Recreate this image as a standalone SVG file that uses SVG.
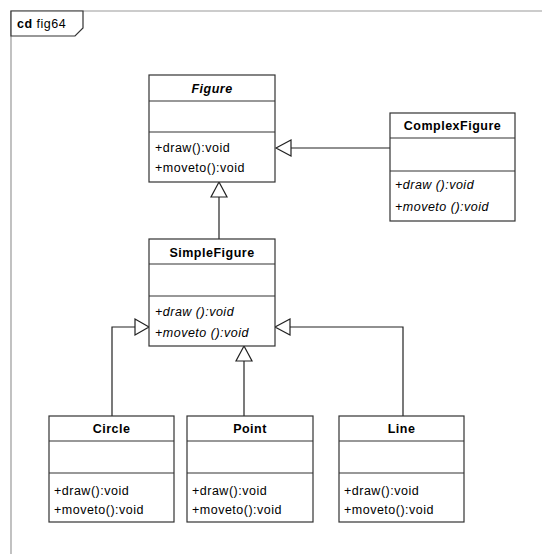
<svg xmlns="http://www.w3.org/2000/svg" width="542" height="554" viewBox="0 0 542 554">
<style>
.box{fill:#fff;stroke:#333;stroke-width:1.2}
.div{stroke:#333;stroke-width:1.2}
.t{font-family:"Liberation Sans",Arial,sans-serif;font-size:12.5px;letter-spacing:0.5px;fill:#000}
.title{font-weight:bold;text-anchor:middle}
.it{font-style:italic}
.con{fill:none;stroke:#222;stroke-width:1.2}
.head{fill:#fff;stroke:#222;stroke-width:1.2}
</style>
<rect width="542" height="554" fill="#fff"/>
<g id="frame">
<path d="M11,554 V11 H542" fill="none" stroke="#999" stroke-width="1.2"/>
<path d="M11,11 H83 V28 L75,36 H11 Z" fill="#fff" stroke="#333" stroke-width="1.2"/>
<text x="17" y="28" class="t"><tspan font-weight="bold">cd</tspan> fig64</text>
</g>
<g id="connectors">
<path class="con" d="M390,148 H291"/>
<polygon class="head" points="276,148 291,140 291,156"/>
<path class="con" d="M219,239 V197"/>
<polygon class="head" points="219,182 211,197 227,197"/>
<path class="con" d="M112,416 V327 H135"/>
<polygon class="head" points="149,327 135,319 135,335"/>
<path class="con" d="M244,416 V361"/>
<polygon class="head" points="244,346 236,361 252,361"/>
<path class="con" d="M403,416 V327 H290"/>
<polygon class="head" points="275,327 290,319 290,335"/>
</g>
<g id="Figure">
<rect class="box" x="149" y="75" width="126" height="107"/>
<path class="div" d="M149,101 H275 M149,132 H275"/>
<text class="t title it" x="212" y="93">Figure</text>
<text class="t" x="155" y="152">+draw():void</text>
<text class="t" x="155" y="172">+moveto():void</text>
</g>
<g id="ComplexFigure">
<rect class="box" x="390" y="113" width="125" height="108"/>
<path class="div" d="M390,138 H515 M390,171 H515"/>
<text class="t title" x="452.5" y="130">ComplexFigure</text>
<text class="t it" x="395" y="189">+draw ():void</text>
<text class="t it" x="395" y="211">+moveto ():void</text>
</g>
<g id="SimpleFigure">
<rect class="box" x="149" y="239" width="126" height="107"/>
<path class="div" d="M149,264 H275 M149,296 H275"/>
<text class="t title" x="212" y="257">SimpleFigure</text>
<text class="t it" x="155" y="316">+draw ():void</text>
<text class="t it" x="155" y="337">+moveto ():void</text>
</g>
<g id="Circle">
<rect class="box" x="49" y="416" width="125" height="106"/>
<path class="div" d="M49,441 H174 M49,473 H174"/>
<text class="t title" x="111.5" y="433">Circle</text>
<text class="t" x="54" y="495">+draw():void</text>
<text class="t" x="54" y="514">+moveto():void</text>
</g>
<g id="Point">
<rect class="box" x="187" y="416" width="126" height="106"/>
<path class="div" d="M187,441 H313 M187,473 H313"/>
<text class="t title" x="250" y="433">Point</text>
<text class="t" x="192" y="495">+draw():void</text>
<text class="t" x="192" y="514">+moveto():void</text>
</g>
<g id="Line">
<rect class="box" x="339" y="416" width="125" height="106"/>
<path class="div" d="M339,441 H464 M339,473 H464"/>
<text class="t title" x="401.5" y="433">Line</text>
<text class="t" x="344" y="495">+draw():void</text>
<text class="t" x="344" y="514">+moveto():void</text>
</g>
</svg>
